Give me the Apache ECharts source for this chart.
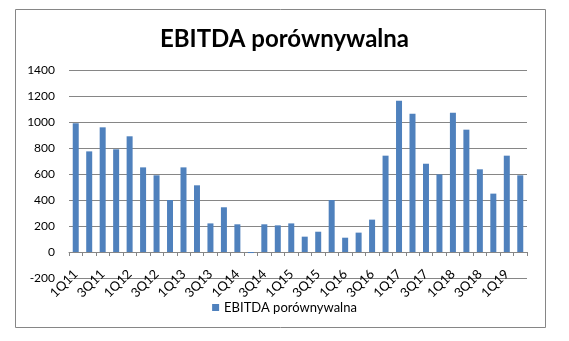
<!DOCTYPE html>
<html>
<head>
<meta charset="utf-8">
<script src="https://cdn.jsdelivr.net/npm/echarts@6/dist/echarts.min.js"></script>
<style>
  html, body { margin: 0; padding: 0; background: #fff; }
  #chart { width: 569px; height: 341px; }
</style>
</head>
<body>
<div id="chart"></div>
<script>
// Quarterly comparable EBITDA
const quarters = [
  '1Q11','2Q11','3Q11','4Q11','1Q12','2Q12','3Q12','4Q12',
  '1Q13','2Q13','3Q13','4Q13','1Q14','2Q14','3Q14','4Q14',
  '1Q15','2Q15','3Q15','4Q15','1Q16','2Q16','3Q16','4Q16',
  '1Q17','2Q17','3Q17','4Q17','1Q18','2Q18','3Q18','4Q18',
  '1Q19','2Q19'
];
const ebitda = [
  990, 774, 959, 790, 890, 651, 590, 400,
  651, 513, 220, 344, 213, -8, 213, 205,
  220, 118, 156, 400, 110, 149, 249, 741,
  1164, 1064, 679, 597, 1072, 941, 636, 449,
  741, 590
];
const seriesName = 'EBITDA porównywalna';
const yTicks = { min: -200, max: 1400, step: 200 };

const font = 'Lato, "Open Sans", sans-serif';
const chart = echarts.init(document.getElementById('chart'), null, { renderer: 'canvas' });
chart.setOption({
  animation: false,
  backgroundColor: '#fff',
  title: {
    text: seriesName,
    left: 'center',
    top: 22,
    textStyle: { fontFamily: font, fontSize: 24, fontWeight: 'bold', color: '#000' }
  },
  graphic: [{
    type: 'rect',
    shape: { x: 15.5, y: 9.5, width: 530, height: 318 },
    style: { fill: 'none', stroke: '#868686', lineWidth: 1 },
    silent: true
  }],
  legend: {
    data: [seriesName],
    top: 296,
    left: 'center',
    itemWidth: 7,
    itemHeight: 7,
    itemGap: 5,
    icon: 'rect',
    textStyle: { fontFamily: font, fontSize: 13, color: '#000' }
  },
  grid: { left: 69, right: 42, top: 70, bottom: 63, containLabel: false },
  xAxis: {
    type: 'category',
    data: quarters,
    boundaryGap: true,
    axisLine: { onZero: true, lineStyle: { color: '#868686', width: 1 } },
    axisTick: { show: true, interval: 0, alignWithLabel: false, length: 4, lineStyle: { color: '#868686' } },
    axisLabel: {
      interval: 1,
      rotate: 45,
      margin: -6,
      fontFamily: font,
      fontSize: 13,
      color: '#000'
    },
    splitLine: { show: false }
  },
  yAxis: {
    type: 'value',
    min: yTicks.min,
    max: yTicks.max,
    interval: yTicks.step,
    axisLine: { show: false },
    axisTick: { show: false },
    axisLabel: {
      fontFamily: font, fontSize: 12, color: '#000', margin: 14,
      formatter: v => String(v)
    },
    splitLine: { lineStyle: { color: '#868686', width: 1 } }
  },
  series: [{
    name: seriesName,
    type: 'bar',
    data: ebitda,
    barWidth: 6,
    itemStyle: { color: '#4F81BD' }
  }]
});
</script>
</body>
</html>
